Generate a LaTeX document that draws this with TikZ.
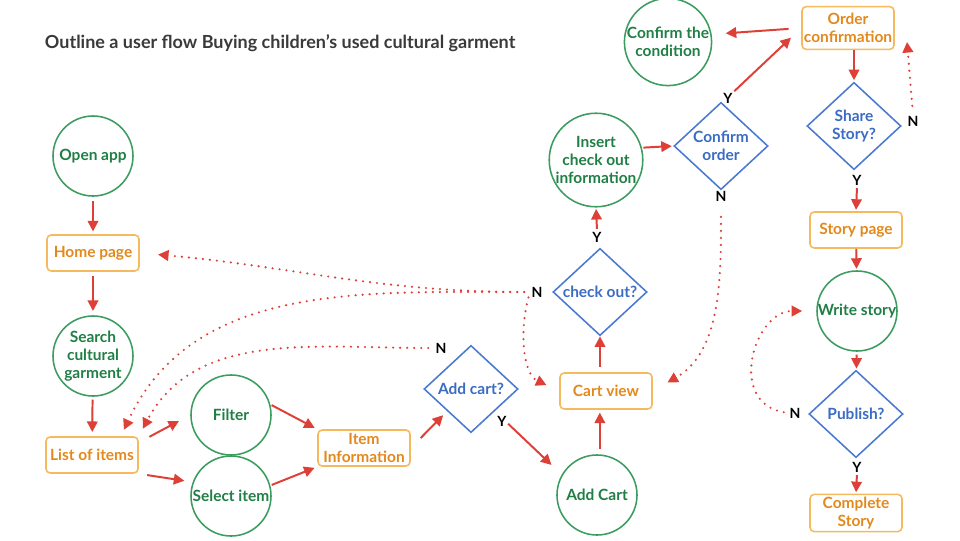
\documentclass[tikz,border=0pt]{standalone}
\usepackage{fontspec}
\setmainfont{Lato}
\usepackage{tikz}
\usetikzlibrary{arrows.meta,shapes.geometric,calc}
\definecolor{TitleInk}{HTML}{3A3A3A}
\definecolor{StepGreen}{HTML}{3C9B5E}
\definecolor{StepText}{HTML}{1F7F45}
\definecolor{PageLine}{HTML}{F5B95E}
\definecolor{PageText}{HTML}{E3891C}
\definecolor{AskLine}{HTML}{4A79D1}
\definecolor{AskText}{HTML}{3B6CC3}
\definecolor{FlowRed}{HTML}{DE3F36}

\begin{document}
\begin{tikzpicture}[x=0.025cm,y=0.025cm,
    every node/.style={font=\fontsize{11}{13}\selectfont\bfseries},
    stepcircle/.style={circle,draw=StepGreen,line width=1.1pt,text=StepText,
      minimum size=2cm,inner sep=0pt,align=center},
    pagebox/.style={rectangle,rounded corners=3pt,draw=PageLine,line width=1.1pt,
      text=PageText,minimum width=2.3cm,minimum height=0.9cm,inner sep=1pt,align=center},
    askdiamond/.style={diamond,draw=AskLine,line width=1.1pt,text=AskText,
      minimum width=2.35cm,minimum height=2.18cm,inner sep=0pt,align=center},
    yn/.style={font=\fontsize{10}{12}\selectfont\bfseries,text=black,inner sep=1pt},
    flow/.style={draw=FlowRed,line width=1.4pt,-{Triangle[length=7.5pt,width=7.5pt]}},
    backflow/.style={draw=FlowRed,line width=1.7pt,line cap=round,
      dash pattern=on 0pt off 5pt,-{Triangle[length=7.5pt,width=7.5pt]}}]
    \path[use as bounding box,fill=white] (0,0) rectangle (960,-540);

    \node[font=\fontsize{12.8}{15}\selectfont\bfseries,text=TitleInk,anchor=west]
      (title) at (40,-43) {Outline a user flow Buying children’s used cultural garment};

    % buying path
    \node[stepcircle] (openapp) at (93,-156) {Open app};
    \node[pagebox] (home) at (93,-253) {Home page};
    \node[stepcircle] (search) at (93,-356) {Search\\cultural\\garment};
    \node[pagebox] (items) at (92,-455) {List of items};
    \node[stepcircle] (filter) at (231,-415) {Filter};
    \node[stepcircle] (select) at (231,-496) {Select item};
    \node[pagebox] (info) at (364,-448) {Item\\Information};
    \node[askdiamond] (addq) at (471,-389) {Add cart?};
    \node[stepcircle] (addcart) at (597,-495) {Add Cart};
    \node[pagebox] (cartview) at (606,-391) {Cart view};
    \node[askdiamond] (checkq) at (600,-292) {check out?};
    \node[stepcircle] (insert) at (596,-160) {Insert\\check out\\information};
    \node[askdiamond] (confirmq) at (721,-146) {Confirm\\order};
    \node[stepcircle] (condition) at (668,-42) {Confirm the\\condition};
    \node[pagebox,minimum height=1.07cm] (orderconf) at (848,-28) {Order\\confirmation};

    % story path
    \node[askdiamond] (shareq) at (854,-126) {Share\\Story?};
    \node[pagebox] (storypage) at (856,-230) {Story page};
    \node[stepcircle] (write) at (857,-311) {Write story};
    \node[askdiamond] (publishq) at (856,-414) {Publish?};
    \node[pagebox,minimum height=0.93cm] (complete) at (856,-513) {Complete\\Story};

    % yes / no marks
    \node[yn] (ycheck) at (597,-237) {Y};
    \node[yn] (nchk) at (537,-292) {N};
    \node[yn] (nadd) at (441,-348) {N};
    \node[yn] (yadd) at (502,-421) {Y};
    \node[yn] (nconf) at (721,-196) {N};
    \node[yn] (yconf) at (728,-98) {Y};
    \node[yn] (nshare) at (913,-121) {N};
    \node[yn] (yshare) at (857,-180) {Y};
    \node[yn] (npub) at (795,-413) {N};
    \node[yn] (ypub) at (857,-467) {Y};

    \draw[flow,shorten <=3pt,shorten >=2pt] (openapp) -- (home);
    \draw[flow,shorten <=3pt,shorten >=3pt] (home) -- (search);
    \draw[flow,shorten <=2pt,shorten >=3pt] (search) -- (items);
    \draw[flow,shorten <=8.5pt,shorten >=9pt] (items.15) -- (filter.west);
    \draw[flow,shorten <=6pt,shorten >=6pt] (items.south east) -- (select.160);
    \draw[flow,shorten <=1pt,shorten >=2pt] (filter.15) -- (info.north west);
    \draw[flow,shorten <=1pt,shorten >=2pt] (select.15) -- (info.south west);
    \draw[flow,shorten <=10pt,shorten >=4pt] (info.east) -- (addq.south west);
    \draw[flow,shorten <=13pt,shorten >=10pt] (addq.south east) -- (addcart.150);
    \draw[flow,shorten <=4pt,shorten >=2pt] (addcart.86) -- (addcart.86 |- cartview.south);
    \draw[flow,shorten <=4pt] (cartview.north -| checkq.south) -- (checkq.south);
    \draw[flow,shorten <=1pt,shorten >=1pt] (ycheck.north) -- (insert.south);
    \draw[flow,shorten <=1pt,shorten >=1pt] (insert.15) -- (confirmq.west);
    \draw[flow,shorten >=10pt] (yconf.north east) -- (orderconf.west);
    \draw[flow,shorten <=9pt,shorten >=10pt] (orderconf.west) -- (condition.10);
    \draw[flow,shorten >=1pt] (orderconf.south -| shareq.north) -- (shareq.north);
    \draw[flow,shorten <=1pt,shorten >=1pt] (yshare.south) -- (storypage.north);
    \draw[flow,shorten >=1pt] (storypage) -- (write);
    \draw[flow,shorten <=2pt,shorten >=1pt] (write) -- (publishq);
    \draw[flow,shorten <=1pt,shorten >=1pt] (ypub.south) -- (complete.north);

    \draw[backflow,shorten <=4pt,shorten >=13pt] (nchk.west) to[out=180,in=-5] (home.east);
    \draw[backflow,shorten <=4pt,shorten >=5pt] (nchk.west) to[out=180,in=65] (items.33);
    \draw[backflow,shorten <=4pt,shorten >=10pt] (nchk.west) to[out=-105,in=155] (cartview.west);
    \draw[backflow,shorten <=4pt,shorten >=6pt] (nadd.west) to[out=180,in=62] (items.north east);
    \draw[backflow,shorten <=10pt,shorten >=12pt] (nconf.south) to[out=-90,in=30] (cartview.east);
    \draw[backflow,shorten <=6pt,shorten >=10pt] (nshare.north) to[out=95,in=-85] ([shift={(11,0)}]orderconf.east);
    \draw[backflow,shorten <=3pt,shorten >=10pt] (npub.west) to[out=170,in=180,looseness=1.5] (write.west);
\end{tikzpicture}
\end{document}
